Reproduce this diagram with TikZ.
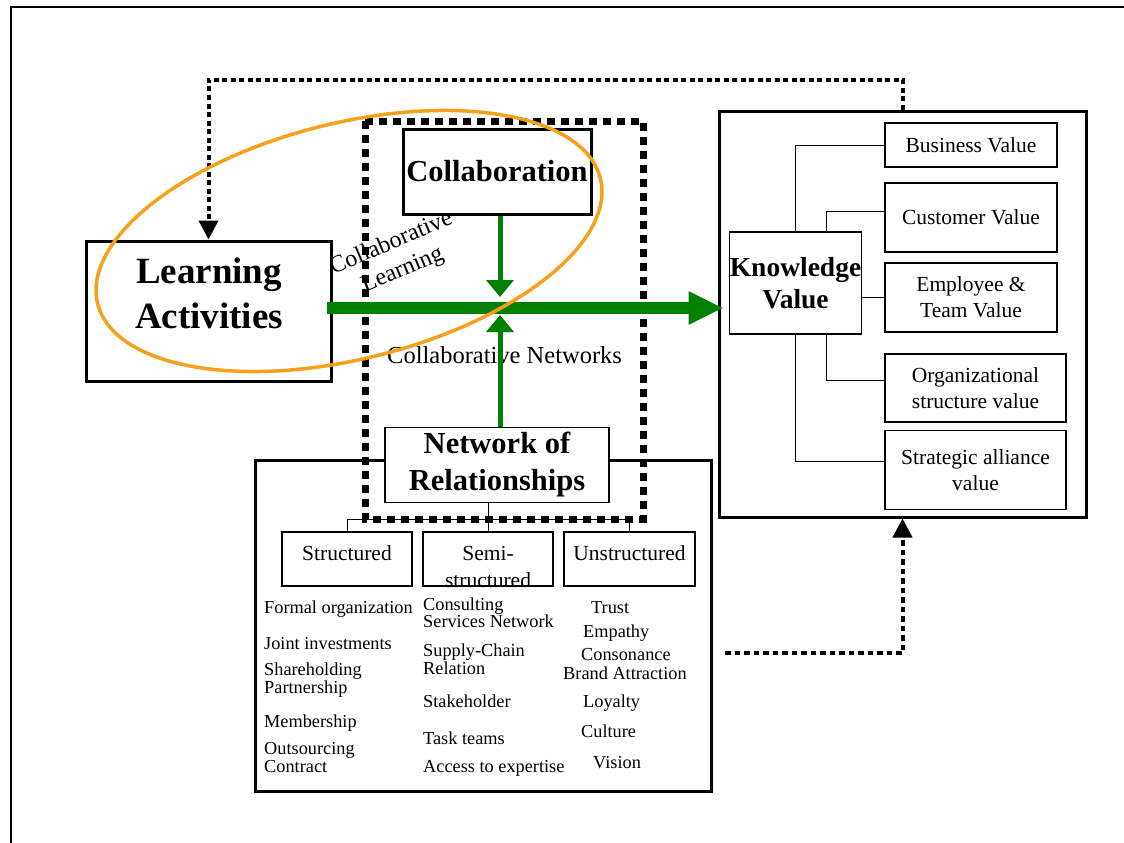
\documentclass[tikz,border=0pt]{standalone}
\usepackage{fontspec}
\setmainfont{Liberation Serif}
\usetikzlibrary{arrows.meta}
\definecolor{ringorange}{RGB}{246,160,28}
\definecolor{flowgreen}{RGB}{0,128,0}
\begin{document}
\begin{tikzpicture}[x=1pt,y=-1pt,
  thickbox/.style={draw,line width=3pt,inner sep=0pt},
  thinbox/.style={draw,line width=1.2pt,fill=white,inner sep=0pt},
  bigtext/.style={font=\bfseries\fontsize{37}{45}\selectfont,align=center,inner sep=0pt},
  headtext/.style={font=\bfseries\fontsize{30.5}{37}\selectfont,align=center},
  kvtext/.style={font=\bfseries\fontsize{27.5}{32}\selectfont,align=center},
  plain/.style={font=\fontsize{21.5}{26}\selectfont,align=center},
  item/.style={font=\fontsize{18.3}{16}\selectfont,align=left,anchor=base west,inner sep=0pt},
  link/.style={line width=1pt},
  greenbar/.style={flowgreen,line width=12pt,-{Triangle[length=35pt,width=31pt]}},
  greenup/.style={flowgreen,line width=5pt,-{Triangle[length=17pt,width=27pt]}},
  dotarrow/.style={line width=4pt,dash pattern=on 5pt off 3.5pt,-{Triangle[length=19pt,width=19pt]}},
]
\useasboundingbox (0,0) rectangle (1124,843);
% page frame
\draw[line width=2pt] (11,843) -- (11,7) -- (1124,7);

% outer boxes
\node[thickbox,minimum width=456,minimum height=331] (relbox) at (483,625.5) {};
\node[thickbox,minimum width=367,minimum height=406] (kvbox) at (902.5,314) {};
\draw[line width=7pt,dash pattern=on 8pt off 6pt] (365,121) rectangle (643,519);

% main boxes
\node[thickbox,fill=white,minimum width=245,minimum height=140] (learn) at (208.5,311) {};
\node[thickbox,fill=white,minimum width=188,minimum height=85,headtext] (collab) at (497,171.5) {Collaboration};
\node[thinbox,minimum width=224,minimum height=75,headtext] (netw) at (497,465) {Network of\\Relationships};
\node[thinbox,minimum width=131,minimum height=102,kvtext] (kv) at (795.5,283) {Knowledge\\Value};

% value boxes
\node[thinbox,minimum width=172,minimum height=44,plain] (bv) at (971,145) {Business Value};
\node[thinbox,minimum width=172,minimum height=69,plain] (cv) at (971,217.5) {Customer Value};
\node[thinbox,minimum width=172,minimum height=69,plain] (ev) at (971,297.5) {Employee \&\\Team Value};
\node[thinbox,minimum width=181,minimum height=68,plain] (ov) at (975.5,388) {Organizational\\structure value};
\node[thinbox,minimum width=181,minimum height=79,plain] (sv) at (975.5,470) {Strategic alliance\\value};
\draw[link] (kv.north) |- (bv.west);
\draw[link] ([xshift=30.5pt]kv.north) |- ([yshift=6pt]cv.west);
\draw[link] (kv.east |- ev.west) -- (ev.west);
\draw[link] ([xshift=30.5pt]kv.south) |- ([yshift=8pt]ov.west);
\draw[link] (kv.south) |- ([yshift=9pt]sv.west);

% kinds of relationships
\node[thinbox,minimum width=130,minimum height=54] (st) at (347,559) {};
\node[thinbox,minimum width=130,minimum height=54] (se) at (488,559) {};
\node[thinbox,minimum width=131,minimum height=54] (un) at (629.5,559) {};
\draw[link] (st.north) -- ++(0,-12) -| (un.north);
\draw[link] (netw.south -| se.north) -- (se.north);
\node[plain,anchor=base] (sttxt) at (347,560) {Structured};
\node[plain,anchor=base,font=\fontsize{21.5}{27}\selectfont] (setxt) at (488,587) {Semi-\\structured};
\node[plain,anchor=base] (untxt) at (629.5,560) {Unstructured};

\node[item] (st1) at (264,613) {Formal organization};
\node[item] (st2) at (264,649) {Joint investments};
\node[item] (st3) at (264,693) {Shareholding\\Partnership};
\node[item] (st4) at (264,727) {Membership};
\node[item] (st5) at (264,772) {Outsourcing\\Contract};

\node[item,font=\fontsize{18.3}{17}\selectfont] (se1) at (423,627) {Consulting\\Services Network};
\node[item,font=\fontsize{18.3}{18}\selectfont] (se2) at (423,674) {Supply-Chain\\Relation};
\node[item] (se3) at (423,707) {Stakeholder};
\node[item] (se4) at (423,744) {Task teams};
\node[item] (se5) at (423,772) {Access to expertise};

\node[item] (un1) at (591,613) {Trust};
\node[item] (un2) at (583,637) {Empathy};
\node[item] (un3) at (581,660) {Consonance};
\node[item] (un4) at (563,679) {Brand Attraction};
\node[item] (un5) at (583,707) {Loyalty};
\node[item] (un6) at (581,737) {Culture};
\node[item] (un7) at (593,768) {Vision};

% texts of the left part
\node[bigtext,anchor=base] (learntxt) at (209,328) {Learning\\Activities};
\node[rotate=23,font=\fontsize{24}{29}\selectfont,align=center] (cltxt) at (397,257) {Collaborative\\Learning};
\node[anchor=base west,inner sep=0pt,font=\fontsize{24.5}{28}\selectfont] (cntxt) at (387,363) {Collaborative Networks};

% flows
\coordinate (hub) at (500,308);
\draw[greenbar,shorten >=-6pt] ([xshift=-6pt]learn.east |- hub) -- (hub -| kvbox.west);
\draw[greenup,shorten >=11pt] (collab.south -| hub) -- (hub);
\draw[greenup,shorten >=7pt] (netw.north -| hub) -- (hub);
\draw[dotarrow] (kvbox.north) -- ++(0,-30) -| (learn.north);
\coordinate (loopstart) at (725,653);
\draw[dotarrow,dash pattern=on 5.5pt off 4pt] (loopstart) -| (kvbox.south);

% learning ring
\draw[ringorange,line width=3.5pt,rotate around={14:(349,241)}] (349,241) ellipse [x radius=259, y radius=118];
\end{tikzpicture}
\end{document}
